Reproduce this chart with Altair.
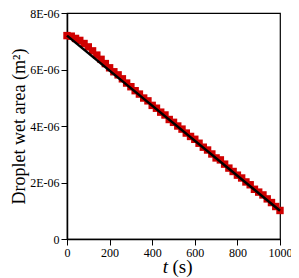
import altair as alt
import pandas as pd

# ---- data ----
t_s = [0, 20, 40, 60, 80, 100, 120, 140, 160, 180,
       200, 220, 240, 260, 280, 300, 320, 340, 360, 380,
       400, 420, 440, 460, 480, 500, 520, 540, 560, 580,
       600, 620, 640, 660, 680, 700, 720, 740, 760, 780,
       800, 820, 840, 860, 880, 900, 920, 940, 960, 980, 1000]
area_m2 = [7.20e-6, 7.18e-6, 7.10e-6, 7.03e-6, 6.92e-6, 6.80e-6, 6.66e-6, 6.51e-6, 6.36e-6, 6.21e-6,
           6.06e-6, 5.92e-6, 5.81e-6, 5.67e-6, 5.52e-6, 5.39e-6, 5.25e-6, 5.13e-6, 4.99e-6, 4.89e-6,
           4.73e-6, 4.63e-6, 4.49e-6, 4.39e-6, 4.23e-6, 4.13e-6, 4.00e-6, 3.89e-6, 3.75e-6, 3.63e-6,
           3.53e-6, 3.39e-6, 3.25e-6, 3.15e-6, 3.01e-6, 2.87e-6, 2.80e-6, 2.65e-6, 2.51e-6, 2.39e-6,
           2.26e-6, 2.16e-6, 2.02e-6, 1.92e-6, 1.76e-6, 1.66e-6, 1.56e-6, 1.42e-6, 1.29e-6, 1.15e-6, 1.01e-6]
fit_t = [0, 1000]
fit_area = [7.2e-6, 1.0e-6]

x_ticks = [0, 50, 100, 150, 200, 250, 300, 350, 400, 450, 500,
           550, 600, 650, 700, 750, 800, 850, 900, 950, 1000]
y_ticks = [0, 0.5e-6, 1e-6, 1.5e-6, 2e-6, 2.5e-6, 3e-6, 3.5e-6, 4e-6,
           4.5e-6, 5e-6, 5.5e-6, 6e-6, 6.5e-6, 7e-6, 7.5e-6, 8e-6]

W, H = 213, 226
FONT = "Liberation Serif"

pts = pd.DataFrame({"t": t_s, "area": area_m2})
fit = pd.DataFrame({"t": fit_t, "area": fit_area})
one = pd.DataFrame({"a": [0]})

y_major = "round(datum.value*2e6) % 4 == 0"

x_enc = alt.X(
    "t:Q",
    scale=alt.Scale(domain=[0, 1000], nice=False),
    axis=alt.Axis(
        values=x_ticks,
        format="d",
        labelExpr="datum.value % 200 == 0 ? datum.label : ''",
        tickSize={"condition": {"test": "datum.value % 200 == 0", "value": 6}, "value": 3},
        title=None,
        labelPadding=2,
        labelOverlap=False,
        labelFlush=False,
    ),
)
y_enc = alt.Y(
    "area:Q",
    scale=alt.Scale(domain=[0, 8e-6], nice=False),
    axis=alt.Axis(
        values=y_ticks,
        labelExpr=y_major + " ? (round(datum.value*1e6) == 0 ? '0' : round(datum.value*1e6) + 'E-06') : ''",
        tickSize={"condition": {"test": y_major, "value": 6}, "value": 3},
        title="Droplet wet area (m²)",
        titleFont=FONT,
        titleFontSize=18,
        titleFontWeight="normal",
        titleColor="black",
        titlePadding=1,
        labelPadding=2,
        labelOverlap=False,
        labelFlush=False,
    ),
)

points = alt.Chart(pts).mark_square(size=55, color="#d00000", opacity=1).encode(x=x_enc, y=y_enc)
line = alt.Chart(fit).mark_line(color="black", strokeWidth=2.5).encode(x="t:Q", y="area:Q")

t_txt = alt.Chart(one).mark_text(
    text="t", font=FONT, fontSize=19, fontStyle="italic", align="right", baseline="alphabetic", color="black"
).encode(x=alt.value(101), y=alt.value(H + 34))
s_txt = alt.Chart(one).mark_text(
    text="(s)", font=FONT, fontSize=19, align="left", baseline="alphabetic", color="black"
).encode(x=alt.value(105.5), y=alt.value(H + 34))

chart = (
    alt.layer(points, line, t_txt, s_txt)
    .properties(
        width=W,
        height=H,
        autosize=alt.AutoSizeParams(type="none"),
        padding={"left": 59, "top": 5, "right": 11, "bottom": 38},
    )
    .configure_view(stroke="black", strokeWidth=1.2)
    .configure_axis(
        grid=False,
        labelFont=FONT,
        labelFontSize=12,
        labelColor="black",
        tickColor="black",
        tickWidth=1,
        domainColor="black",
        domainWidth=1.5,
    )
)

chart.save("out.html", embed_options={"renderer": "svg", "actions": False})
